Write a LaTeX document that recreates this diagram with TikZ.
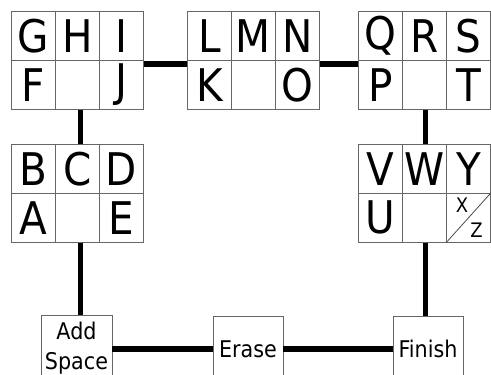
\documentclass[tikz,border=0pt]{standalone}
\usepackage{fontspec}
\setmainfont{DejaVu Sans}[FakeStretch=0.9]
\begin{document}
\begin{tikzpicture}[x=1pt,y=-1pt,
 cell/.style={draw=black!60, line width=0.8pt, minimum width=44pt, minimum height=49pt, inner sep=0pt, anchor=north west, font=\fontsize{45}{45}\selectfont},
 btn/.style={draw=black!60, line width=0.8pt, minimum width=70pt, minimum height=66pt, inner sep=0pt, align=center, font=\fontsize{23}{30}\selectfont},
 small/.style={inner sep=0pt, font=\fontsize{20}{20}\selectfont},
 conn/.style={line width=5.5pt, black}]
\useasboundingbox (0,0) rectangle (491,375);
\clip (0,0) rectangle (491,375);
% block 1
\node[cell] (G) at (11,11) {G};
\node[cell] (H) at (55,11) {H};
\node[cell] (I) at (99,11) {I};
\node[cell] (F) at (11,60) {F};
\node[cell] (b1m) at (55,60) {};
\node[cell] (J) at (99,60) {J};
% block 2
\node[cell] (L) at (187,11) {L};
\node[cell] (M) at (231,11) {M};
\node[cell] (N) at (275,11) {N};
\node[cell] (K) at (187,60) {K};
\node[cell] (b2m) at (231,60) {};
\node[cell] (O) at (275,60) {O};
% block 3
\node[cell] (Q) at (358,11) {Q};
\node[cell] (R) at (402,11) {R};
\node[cell] (S) at (446,11) {S};
\node[cell] (P) at (358,60) {P};
\node[cell] (b3m) at (402,60) {};
\node[cell] (T) at (446,60) {T};
% block 4
\node[cell] (B) at (11,144) {B};
\node[cell] (C) at (55,144) {C};
\node[cell] (D) at (99,144) {D};
\node[cell] (A) at (11,193) {A};
\node[cell] (b4m) at (55,193) {};
\node[cell] (E) at (99,193) {E};
% block 5
\node[cell] (V) at (358,144) {V};
\node[cell] (W) at (402,144) {W};
\node[cell] (Y) at (446,144) {Y};
\node[cell] (U) at (358,193) {U};
\node[cell] (b5m) at (402,193) {};
\node[cell] (XZ) at (446,193) {};
\draw[draw=black!70, line width=0.8pt] (XZ.south west) -- (XZ.north east);
\node[small] (X) at (462,205.5) {X};
\node[small] (Z) at (476.5,230) {Z};
% buttons
\node[btn, minimum width=71pt] (add) at (76.5,348) {Add\\Space};
\node[btn] (erase) at (248,349) {Erase};
\node[btn] (finish) at (428,349) {Finish};
% connectors
\draw[conn] ([yshift=-4pt]J.north east) -- ([yshift=-4pt]K.north west);
\draw[conn] ([yshift=-4pt]O.north east) -- ([yshift=-4pt]P.north west);
\draw[conn] ([xshift=3pt]b1m.south) -- ([xshift=3pt]C.north);
\draw[conn] ([xshift=1pt]b3m.south) -- ([xshift=1pt]W.north);
\draw[conn] ([xshift=3pt]b4m.south) -- ([xshift=3pt]b4m.south |- add.north);
\draw[conn] ([xshift=1pt]b5m.south) -- ([xshift=1pt]b5m.south |- finish.north);
\draw[conn] (add.east |- erase.west) -- (erase.west);
\draw[conn] (erase.east) -- (finish.west);
\end{tikzpicture}
\end{document}
